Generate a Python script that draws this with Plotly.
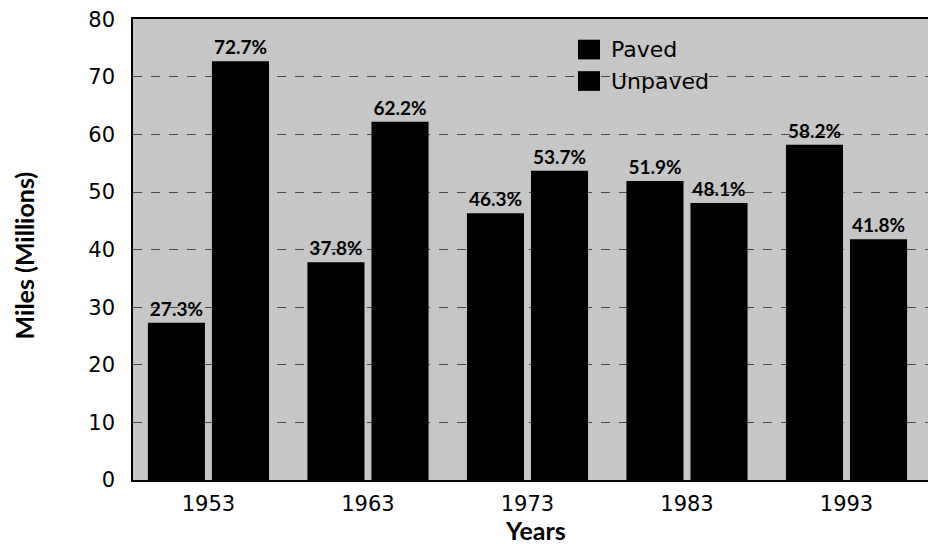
import plotly.graph_objects as go

years = [1953, 1963, 1973, 1983, 1993]
paved = [27.3, 37.8, 46.3, 51.9, 58.2]
unpaved = [72.7, 62.2, 53.7, 48.1, 41.8]
paved_labels = ["27.3%", "37.8%", "46.3%", "51.9%", "58.2%"]
unpaved_labels = ["72.7%", "62.2%", "53.7%", "48.1%", "41.8%"]
y_ticks = [0, 10, 20, 30, 40, 50, 60, 70, 80]

FONT = "Lato"
TICKFONT = "DejaVu Sans"
label_font = dict(family=FONT, size=19, color="black", weight="bold")

fig = go.Figure()
fig.add_trace(go.Bar(x=years, y=paved, name="Paved", marker=dict(color="black", line=dict(width=0)),
                     text=paved_labels, textposition="outside", textfont=label_font,
                     constraintext="none", cliponaxis=False, showlegend=False))
fig.add_trace(go.Bar(x=years, y=unpaved, name="Unpaved", marker=dict(color="black", line=dict(width=0)),
                     text=unpaved_labels, textposition="outside", textfont=label_font,
                     constraintext="none", cliponaxis=False, showlegend=False))

OFF = 8  # page body margin
W, H = 936 - OFF, 545 - OFF
ml, mr, mt, mb = 133 - OFF, 0, 12 - OFF, 65
pw, ph = W - ml - mr, H - mt - mb

def px_x(x):
    return (x - OFF - ml) / pw

def px_y(y):
    return (H - mb - (y - OFF)) / ph

legend_items = [("Paved", 43), ("Unpaved", 75)]
shapes = []
annotations = []
for name, yc in legend_items:
    shapes.append(dict(type="rect", xref="paper", yref="paper",
                       x0=px_x(578), x1=px_x(600), y0=px_y(yc + 10), y1=px_y(yc - 10),
                       fillcolor="black", line=dict(width=0), layer="above"))
    annotations.append(dict(text=name, xref="paper", yref="paper", x=px_x(609), y=px_y(yc),
                            xanchor="left", yanchor="middle", showarrow=False,
                            font=dict(family=TICKFONT, size=22, color="black")))

annotations.append(dict(text="<b>Miles (Millions)</b>", xref="paper", yref="paper",
                        x=px_x(24), y=px_y(252), textangle=-90, xanchor="center", yanchor="middle",
                        showarrow=False, font=dict(family=FONT, size=25, color="black")))
annotations.append(dict(text="<b>Years</b>", xref="paper", yref="paper",
                        x=px_x(535), y=px_y(531), xanchor="center", yanchor="middle",
                        showarrow=False, font=dict(family=FONT, size=25, color="black")))

fig.update_layout(
    width=W, height=H,
    margin=dict(l=ml, r=mr, t=mt, b=mb, pad=0),
    paper_bgcolor="white",
    plot_bgcolor="#c6c6c6",
    barmode="group",
    bargap=0.197,
    bargroupgap=0.109,
    showlegend=False,
    shapes=shapes,
    annotations=annotations,
    font=dict(family=FONT, color="black"),
)
fig.update_xaxes(
    range=[1948.27, 1998.61], tickvals=years, ticktext=[str(y) for y in years],
    tickfont=dict(family=TICKFONT, size=21, color="black"),
    showgrid=False, zeroline=False, showline=True, linecolor="black", linewidth=1.5,
    mirror=True, ticks="", ticklabelstandoff=4, ticklabeloverflow="allow",
)
fig.update_yaxes(
    range=[0, 80.05], tickvals=y_ticks,
    tickfont=dict(family=TICKFONT, size=21, color="black"),
    showgrid=True, gridcolor="#4a4a4a", gridwidth=1, griddash="dash",
    zeroline=False, showline=True, linecolor="black", linewidth=1.5,
    ticks="", ticklabelstandoff=12, ticklabeloverflow="allow",
)

fig.write_html("out.html")
